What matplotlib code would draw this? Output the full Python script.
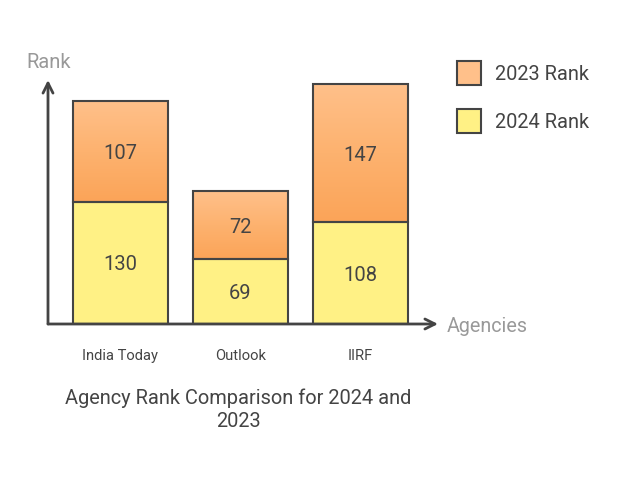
import matplotlib
matplotlib.use("Agg")
import matplotlib.pyplot as plt
import numpy as np
from matplotlib.colors import LinearSegmentedColormap
from matplotlib.patches import Rectangle

plt.rcParams['font.family'] = ['Roboto', 'DejaVu Sans']

agencies = ["India Today", "Outlook", "IIRF"]
rank_2024 = [130, 69, 108]
rank_2023 = [107, 72, 147]

W, H = 626, 482
fig = plt.figure(figsize=(W / 100, H / 100), dpi=100)

def fx(px):
    return px / W

def fy(py):
    return 1 - py / H

# axes placed so the baseline sits at y=324 px and the y arrow at x=48 px
ax = fig.add_axes([fx(48), fy(324), fx(438) - fx(48), fy(80) - fy(324)])
ax.axis('off')

edge = '#444444'
yellow = '#FFF185'
orange_grad = LinearSegmentedColormap.from_list('og', ['#FBA458', '#FDB26F', '#FFC08A'])
grad = np.linspace(0, 1, 256).reshape(-1, 1)
width = 0.79
vc = 'center_baseline'

for i, (b, t) in enumerate(zip(rank_2024, rank_2023)):
    ax.bar(i, b, width=width, color=yellow, edgecolor=edge, linewidth=1.5, zorder=2)
    ax.imshow(grad, cmap=orange_grad, origin='lower', aspect='auto',
              extent=(i - width / 2, i + width / 2, b, b + t), zorder=1)
    ax.add_patch(Rectangle((i - width / 2, b), width, t, fill=False,
                           edgecolor=edge, linewidth=1.5, zorder=3))
    ax.text(i, b / 2, str(b), ha='center', va=vc, fontsize=14.5, color='#444444', zorder=4)
    ax.text(i, b + t / 2, str(t), ha='center', va=vc, fontsize=14.5, color='#444444', zorder=4)

ax.set_xlim(-0.604, 2.646)
ax.set_ylim(0, 259.6)

# axis arrows
for tip in [(0, 1), (1, 0)]:
    ax.annotate('', xy=tip, xytext=(0, 0), xycoords='axes fraction',
                arrowprops=dict(arrowstyle='->', color=edge, lw=2, mutation_scale=18,
                                shrinkA=0, shrinkB=0), annotation_clip=False)

fig.text(fx(49), fy(61), 'Rank', ha='center', va=vc, fontsize=14.5, color='#999999')
fig.text(fx(447), fy(325), 'Agencies', ha='left', va=vc, fontsize=14.2, color='#999999')

for i, name in enumerate(agencies):
    ax.text(i, -32, name, ha='center', va=vc, fontsize=10.6, color='#444444')

# legend
legend_items = [('2023 Rank', '#FFC08A', 73), ('2024 Rank', yellow, 121)]
for label, col, yc in legend_items:
    fig.patches.append(Rectangle((fx(457), fy(yc + 12)), fx(24), fy(yc - 12) - fy(yc + 12),
                                 transform=fig.transFigure, facecolor=col,
                                 edgecolor=edge, linewidth=1.5))
    fig.text(fx(495), fy(yc), label, ha='left', va=vc, fontsize=14.4, color='#444444')

fig.text(fx(238), fy(410), 'Agency Rank Comparison for 2024 and\n2023', ha='center',
         va='center', fontsize=14.4, color='#444444', linespacing=1.25)

fig.savefig('out.png', dpi=100)
